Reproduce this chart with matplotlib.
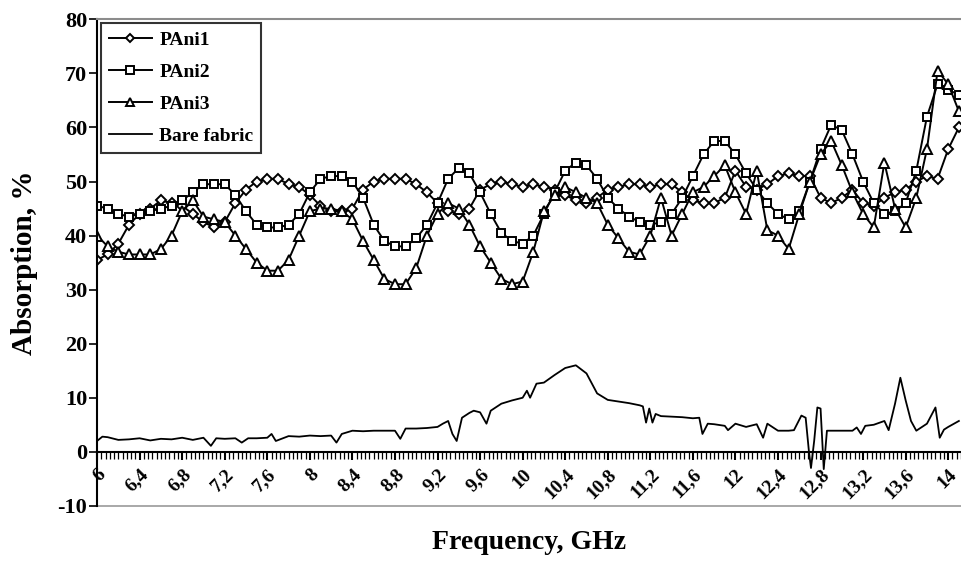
#!/usr/bin/env python
"""
Absorption vs frequency for PAni coated fabrics
"""
import matplotlib
matplotlib.use('Agg')
import matplotlib.pyplot as plt
from matplotlib.ticker import MultipleLocator, FixedLocator

# frequency grid (GHz) for the PAni samples
freq = [6.0, 6.1, 6.2, 6.3, 6.4, 6.5, 6.6, 6.7, 6.8, 6.9,
        7.0, 7.1, 7.2, 7.3, 7.4, 7.5, 7.6, 7.7, 7.8, 7.9,
        8.0, 8.1, 8.2, 8.3, 8.4, 8.5, 8.6, 8.7, 8.8, 8.9,
        9.0, 9.1, 9.2, 9.3, 9.4, 9.5, 9.6, 9.7, 9.8, 9.9,
        10.0, 10.1, 10.2, 10.3, 10.4, 10.5, 10.6, 10.7, 10.8, 10.9,
        11.0, 11.1, 11.2, 11.3, 11.4, 11.5, 11.6, 11.7, 11.8, 11.9,
        12.0, 12.1, 12.2, 12.3, 12.4, 12.5, 12.6, 12.7, 12.8, 12.9,
        13.0, 13.1, 13.2, 13.3, 13.4, 13.5, 13.6, 13.7, 13.8, 13.9,
        14.0, 14.1]

pani1 = [35.5, 36.5, 38.5, 42, 44, 45, 46.5, 46, 45.5, 44,
         42.5, 41.5, 42.5, 46, 48.5, 50, 50.5, 50.5, 49.5, 49,
         47.5, 45.5, 44.5, 44.5, 45, 48.5, 50, 50.5, 50.5, 50.5,
         49.5, 48, 46, 44.5, 44, 45, 48.5, 49.5, 50, 49.5,
         49, 49.5, 49, 48.5, 47.5, 46.5, 46, 47, 48.5, 49,
         49.5, 49.5, 49, 49.5, 49.5, 48, 46.5, 46, 46, 47,
         52, 49, 48.5, 49.5, 51, 51.5, 51, 51, 47, 46,
         47, 48.5, 46, 45.5, 47, 48, 48.5, 50, 51, 50.5,
         56, 60]

pani2 = [45.5, 45, 44, 43.5, 44, 44.5, 45, 45.5, 46.5, 48,
         49.5, 49.5, 49.5, 47.5, 44.5, 42, 41.5, 41.5, 42, 44,
         48, 50.5, 51, 51, 50, 47, 42, 39, 38, 38,
         39.5, 42, 46, 50.5, 52.5, 51.5, 48, 44, 40.5, 39,
         38.5, 40, 44, 48, 52, 53.5, 53, 50.5, 47, 45,
         43.5, 42.5, 42, 42.5, 44, 47, 51, 55, 57.5, 57.5,
         55, 51.5, 48.5, 46, 44, 43, 44.5, 50, 56, 60.5,
         59.5, 55, 50, 46, 44, 44.5, 46, 52, 62, 68,
         67, 66]

pani3 = [40, 38, 37, 36.5, 36.5, 36.5, 37.5, 40, 44.5, 46.5,
         43.5, 43, 42.5, 40, 37.5, 35, 33.5, 33.5, 35.5, 40,
         44.5, 45, 45, 44.5, 43, 39, 35.5, 32, 31, 31,
         34, 40, 44, 46, 45, 42, 38, 35, 32, 31,
         31.5, 37, 44.5, 47.5, 49, 48, 47, 46, 42, 39.5,
         37, 36.5, 40, 47, 40, 44, 48, 49, 51, 53,
         48, 44, 52, 41, 40, 37.5, 44, 50, 55, 57.5,
         53, 48, 44, 41.5, 53.5, 45, 41.5, 47, 56, 70.5,
         68, 63]

# bare fabric, sampled where the trace changes
freq_bare = [6.0, 6.05, 6.1, 6.2, 6.3, 6.4, 6.5, 6.6, 6.7, 6.8,
             6.9, 7.0, 7.07, 7.12, 7.2, 7.3, 7.36, 7.42, 7.5, 7.6,
             7.64, 7.68, 7.8, 7.9, 8.0, 8.1, 8.2, 8.25, 8.3, 8.4,
             8.5, 8.6, 8.7, 8.8, 8.85, 8.9, 9.0, 9.1, 9.2, 9.25,
             9.3, 9.34, 9.38, 9.43, 9.5, 9.54, 9.6, 9.66, 9.7, 9.8,
             9.9, 10.0, 10.04, 10.07, 10.13, 10.2, 10.3, 10.4, 10.5, 10.6,
             10.7, 10.8, 10.9, 11.0, 11.1, 11.13, 11.16, 11.19, 11.22, 11.25,
             11.3, 11.4, 11.5, 11.6, 11.66, 11.69, 11.74, 11.8, 11.9, 11.93,
             12.0, 12.1, 12.2, 12.26, 12.3, 12.4, 12.5, 12.55, 12.62, 12.66,
             12.69, 12.71, 12.74, 12.77, 12.8, 12.83, 12.86, 12.9, 13.0, 13.1,
             13.14, 13.18, 13.22, 13.3, 13.4, 13.44, 13.5, 13.55, 13.6, 13.65,
             13.7, 13.8, 13.88, 13.92, 13.96, 14.0, 14.1]

bare = [2.0, 2.8, 2.7, 2.2, 2.3, 2.5, 2.1, 2.4, 2.3, 2.6,
        2.2, 2.6, 1.1, 2.5, 2.4, 2.5, 1.7, 2.5, 2.5, 2.6,
        3.3, 2.0, 2.9, 2.8, 3.0, 2.9, 3.0, 1.7, 3.3, 3.9,
        3.8, 3.9, 3.9, 3.9, 2.4, 4.3, 4.3, 4.4, 4.6, 5.2,
        5.7, 3.3, 2.0, 6.3, 7.2, 7.6, 7.3, 5.2, 7.6, 8.9,
        9.5, 10.0, 11.3, 10.0, 12.6, 12.8, 14.2, 15.5, 16.0, 14.5,
        10.8, 9.6, 9.3, 9.0, 8.6, 8.4, 5.4, 8.0, 5.4, 7.0,
        6.6, 6.5, 6.4, 6.2, 6.3, 3.3, 5.2, 5.1, 4.8, 4.0,
        5.2, 4.6, 5.1, 2.6, 5.2, 3.9, 3.9, 4.0, 6.7, 6.3,
        0.2, -3.0, 2.0, 8.2, 8.0, -3.2, 3.9, 3.9, 3.9, 3.9,
        4.5, 3.3, 4.8, 5.0, 5.7, 4.0, 8.9, 13.7, 9.5, 5.7,
        3.9, 5.2, 8.2, 2.6, 4.1, 4.6, 5.7]

xticks = [6.0, 6.4, 6.8, 7.2, 7.6, 8.0, 8.4, 8.8, 9.2, 9.6, 10.0,
          10.4, 10.8, 11.2, 11.6, 12.0, 12.4, 12.8, 13.2, 13.6, 14.0]
xtick_labels = ['6', '6,4', '6,8', '7,2', '7,6', '8', '8,4', '8,8', '9,2', '9,6', '10',
                '10,4', '10,8', '11,2', '11,6', '12', '12,4', '12,8', '13,2', '13,6', '14']

plt.rcParams['font.family'] = ['Liberation Serif', 'DejaVu Serif']
plt.rcParams['font.weight'] = 'bold'
plt.rcParams['axes.unicode_minus'] = False

fig = plt.figure(figsize=(9.61, 5.69), dpi=100)
ax = fig.add_axes([0.101, 0.111, 0.899, 0.855])

mk = dict(color='black', linewidth=1.4, markerfacecolor='white',
          markeredgecolor='black', markeredgewidth=1.4)
ax.plot(freq, pani1, marker='D', markersize=5, label='PAni1', **mk)
ax.plot(freq, pani2, marker='s', markersize=6, label='PAni2', **mk)
ax.plot(freq, pani3, marker='^', markersize=6.5, label='PAni3', **mk)
ax.plot(freq_bare, bare, color='black', linewidth=1.3, label='Bare fabric')

ax.set_xlim(6.0, 14.12)
ax.set_ylim(-10, 80)

# spines: x axis crosses at zero, frame lines grey
ax.spines['bottom'].set_position(('data', 0))
ax.spines['bottom'].set_linewidth(1.5)
ax.spines['left'].set_linewidth(1.5)
ax.spines['right'].set_visible(False)
ax.spines['top'].set_color('#8c8c8c')
ax.spines['top'].set_linewidth(1.5)
ax.plot([0, 1], [0, 0], transform=ax.transAxes, color='#9a9a9a',
        linewidth=1.2, clip_on=False)

ax.xaxis.set_major_locator(FixedLocator(xticks))
ax.xaxis.set_minor_locator(MultipleLocator(0.04))
ax.set_xticklabels(xtick_labels, rotation=45, ha='right', va='top',
                   rotation_mode='anchor', fontsize=14, fontweight='bold')
ax.tick_params(axis='x', which='major', direction='out', length=6, width=1.5, pad=4)
ax.tick_params(axis='x', which='minor', direction='out', length=5, width=0.9)

ax.yaxis.set_major_locator(MultipleLocator(10))
ax.tick_params(axis='y', direction='out', length=6, width=1.2, labelsize=16, pad=1)
for lb in ax.get_yticklabels():
    lb.set_fontweight('bold')

ax.set_ylabel('Absorption, %', fontsize=21, fontweight='bold')
ax.yaxis.set_label_coords(-0.068, 0.5)
ax.set_xlabel('Frequency, GHz', fontsize=20, fontweight='bold')
ax.xaxis.set_label_coords(0.5, -0.05)

leg = ax.legend(loc='upper left', fontsize=14, frameon=True, fancybox=False,
                edgecolor='black', borderaxespad=0.2, handlelength=2.2,
                labelspacing=0.75, borderpad=0.4, handletextpad=0.4,
                markerscale=0.85)
leg.get_frame().set_linewidth(1.5)
for t in leg.get_texts():
    t.set_fontweight('bold')

plt.savefig('out.png', dpi=100)
